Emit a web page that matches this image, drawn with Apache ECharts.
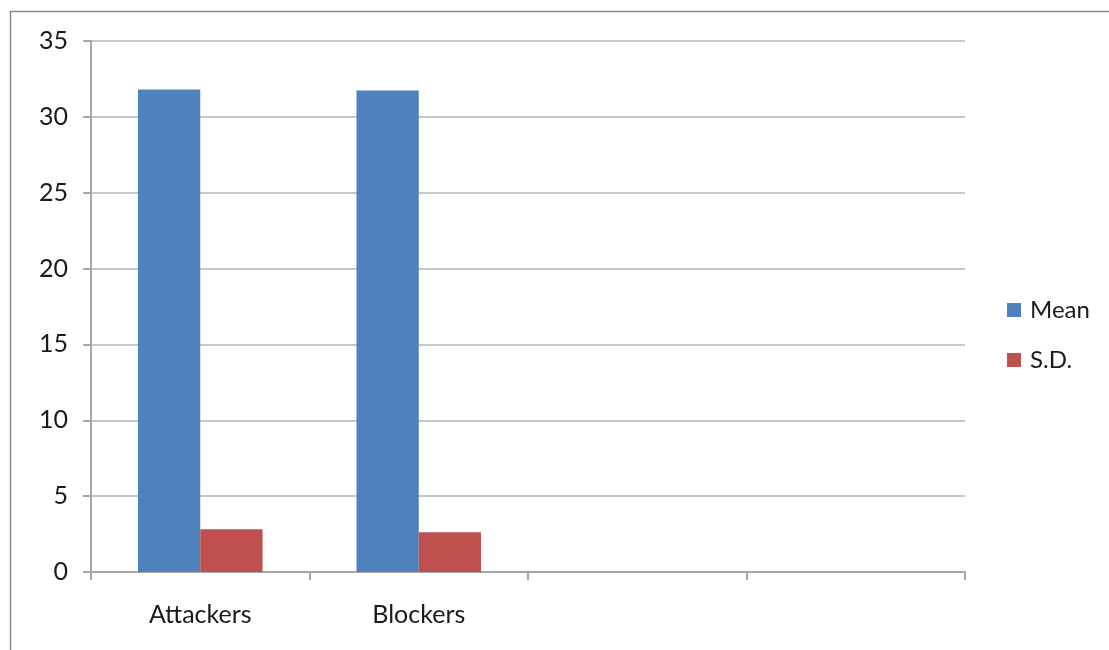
<!DOCTYPE html>
<html>
<head>
<meta charset="utf-8">
<script src="https://cdn.jsdelivr.net/npm/echarts@6/dist/echarts.min.js"></script>
<style>html,body{margin:0;padding:0;background:#fff}#c{width:1109px;height:650px}</style>
</head>
<body>
<div id="c"></div>
<script>
const categories = ['Attackers', 'Blockers', '', ''];
const meanValues = [31.8, 31.73, null, null];
const sdValues = [2.82, 2.62, null, null];
const yTicks = { min: 0, max: 35, interval: 5 };

const chart = echarts.init(document.getElementById('c'), null, { renderer: 'canvas' });
const font = 'Lato, "Open Sans", sans-serif';
chart.setOption({
  animation: false,
  backgroundColor: '#fff',
  graphic: [{
    type: 'rect',
    shape: { x: 10.5, y: 11.5, width: 1300, height: 800 },
    style: { fill: 'none', stroke: '#8c8c8c', lineWidth: 1.5 },
    silent: true
  }],
  grid: { left: 91, right: 144, top: 41, bottom: 78 },
  legend: {
    orient: 'vertical',
    left: 1002,
    top: 292,
    itemWidth: 14,
    itemHeight: 14,
    itemGap: 24,
    icon: 'rect',
    textStyle: { fontFamily: font, fontSize: 24, color: '#1a1a1a', lineHeight: 26, padding: [0, 0, 0, 4] },
    data: ['Mean', 'S.D.']
  },
  xAxis: {
    type: 'category',
    data: categories,
    axisLine: { lineStyle: { color: '#a6a6a6', width: 2 } },
    axisTick: { show: true, length: 8, lineStyle: { color: '#a6a6a6', width: 2 } },
    axisLabel: { fontFamily: font, fontSize: 25, color: '#1a1a1a', margin: 30 }
  },
  yAxis: {
    type: 'value',
    min: yTicks.min, max: yTicks.max, interval: yTicks.interval,
    axisLine: { show: true, lineStyle: { color: '#a6a6a6', width: 2 } },
    axisTick: { show: true, length: 8, lineStyle: { color: '#a6a6a6', width: 2 } },
    splitLine: { lineStyle: { color: '#b5b5b5', width: 1.5 } },
    axisLabel: { fontFamily: font, fontSize: 25, color: '#1a1a1a', margin: 23 }
  },
  series: [
    { name: 'Mean', type: 'bar', data: meanValues, barGap: '0%', barCategoryGap: '43%',
      itemStyle: { color: '#4F81BD' } },
    { name: 'S.D.', type: 'bar', data: sdValues, barGap: '0%', barCategoryGap: '43%',
      itemStyle: { color: '#C0504D' } }
  ]
});
</script>
</body>
</html>
